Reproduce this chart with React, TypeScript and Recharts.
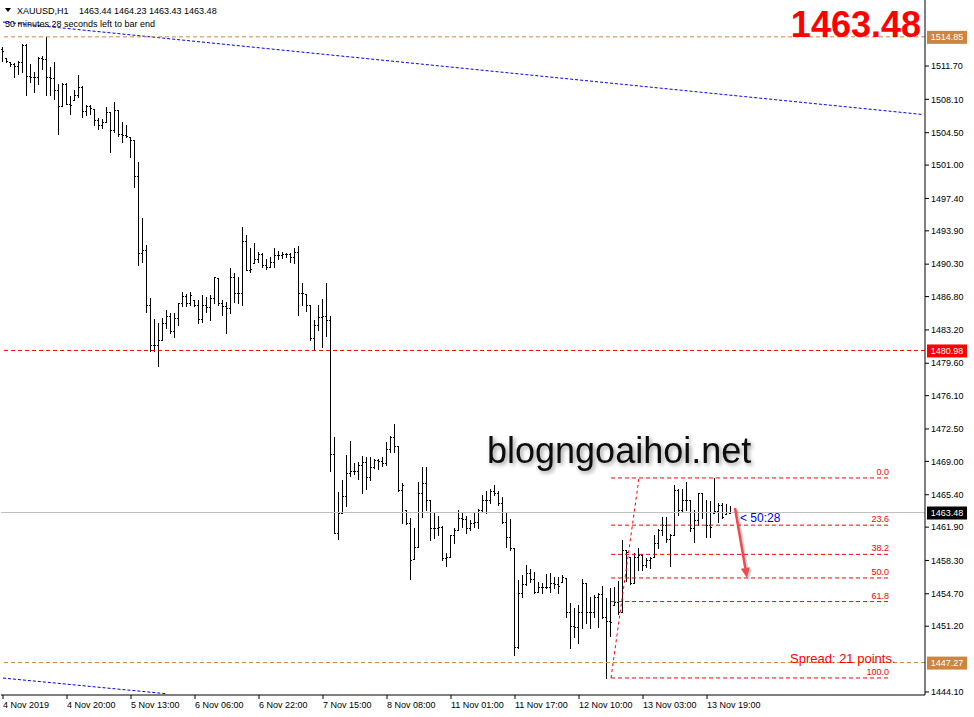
import { ComposedChart, Bar, XAxis, YAxis, ReferenceLine } from 'recharts'

const FONT = '"Liberation Sans", Arial, sans-serif'

// XAUUSD H1 bars, oldest first
const opens = [
  1513.54, 1512.57, 1512.13, 1511.92, 1511.70, 1512.13, 1513.97, 1510.62, 1510.51, 1510.51,
  1512.57, 1512.46, 1510.51, 1510.41, 1509.11, 1507.38, 1509.76, 1507.60, 1508.03, 1508.57,
  1509.43, 1506.84, 1507.38, 1507.06, 1505.87, 1505.33, 1505.65, 1506.73, 1504.79, 1506.95,
  1504.36, 1504.25, 1504.03, 1503.71, 1499.82, 1491.51, 1491.83, 1485.89, 1481.57, 1481.57,
  1482.11, 1483.95, 1484.70, 1483.08, 1484.49, 1486.11, 1486.86, 1486.11, 1486.43, 1485.89,
  1484.38, 1485.89, 1485.67, 1486.65, 1488.81, 1486.11, 1485.78, 1485.57, 1488.91, 1487.19,
  1487.19, 1492.80, 1489.67, 1490.43, 1490.86, 1491.40, 1490.21, 1489.99, 1490.53, 1491.29,
  1491.29, 1491.40, 1491.40, 1491.07, 1491.61, 1487.19, 1487.08, 1485.89, 1482.33, 1483.73,
  1484.59, 1484.70, 1484.27, 1469.80, 1461.27, 1463.43, 1465.26, 1467.75, 1467.96, 1467.96,
  1468.61, 1468.93, 1467.31, 1468.39, 1469.15, 1469.04, 1468.83, 1470.34, 1471.63, 1470.66,
  1465.91, 1463.75, 1462.35, 1458.46, 1459.75, 1465.59, 1466.67, 1464.83, 1461.81, 1461.81,
  1461.91, 1458.57, 1458.67, 1461.05, 1461.59, 1462.89, 1462.78, 1461.81, 1462.35, 1462.45,
  1463.75, 1464.83, 1464.83, 1465.80, 1465.59, 1464.51, 1462.45, 1460.83, 1459.65, 1448.95,
  1454.79, 1455.76, 1456.95, 1456.30, 1454.89, 1455.43, 1455.43, 1455.43, 1455.87, 1455.76,
  1455.97, 1456.41, 1452.73, 1451.22, 1451.11, 1452.73, 1455.87, 1452.73, 1452.73, 1454.35,
  1454.68, 1452.19, 1451.76, 1453.49, 1453.81, 1452.73, 1459.43, 1458.67, 1455.87, 1458.67,
  1458.89, 1457.81, 1458.35, 1458.67, 1460.19, 1461.59, 1462.13, 1460.62, 1461.05, 1465.91,
  1463.75, 1464.83, 1464.83, 1461.81, 1462.67, 1465.59, 1463.53, 1462.13, 1463.43, 1463.64,
  1464.29, 1463.32, 1463.44,
]

const highs = [
  1513.75, 1512.57, 1512.13, 1512.03, 1512.24, 1514.08, 1514.08, 1511.92, 1511.05, 1512.67,
  1512.78, 1514.85, 1511.59, 1512.13, 1509.76, 1509.87, 1509.87, 1508.46, 1509.11, 1510.73,
  1509.54, 1507.49, 1507.49, 1507.06, 1506.09, 1505.98, 1507.27, 1506.73, 1507.81, 1506.95,
  1505.65, 1505.33, 1504.03, 1503.71, 1501.33, 1495.29, 1492.37, 1486.65, 1484.38, 1483.95,
  1484.49, 1485.35, 1485.03, 1485.03, 1486.11, 1487.29, 1487.08, 1487.29, 1486.43, 1486.43,
  1486.97, 1486.75, 1486.97, 1488.91, 1488.81, 1486.43, 1486.21, 1489.89, 1489.35, 1488.91,
  1494.31, 1493.45, 1492.05, 1492.59, 1491.61, 1491.51, 1490.86, 1491.07, 1492.05, 1491.72,
  1491.61, 1491.51, 1491.51, 1492.05, 1492.26, 1488.27, 1487.08, 1485.89, 1484.27, 1485.89,
  1486.54, 1488.27, 1484.70, 1471.63, 1465.69, 1466.99, 1469.69, 1471.20, 1468.83, 1468.93,
  1469.58, 1469.47, 1469.47, 1469.26, 1469.26, 1469.47, 1471.09, 1471.74, 1473.04, 1470.66,
  1466.67, 1463.75, 1462.89, 1461.81, 1466.77, 1468.39, 1468.39, 1464.83, 1463.53, 1463.10,
  1462.02, 1459.11, 1461.05, 1461.81, 1463.75, 1463.53, 1463.10, 1462.67, 1463.43, 1463.86,
  1465.37, 1465.80, 1466.02, 1466.45, 1465.80, 1465.15, 1463.43, 1462.78, 1459.65, 1456.19,
  1456.73, 1457.81, 1457.38, 1457.05, 1455.97, 1455.87, 1456.84, 1456.95, 1456.51, 1456.51,
  1456.73, 1456.41, 1453.71, 1453.17, 1453.49, 1456.30, 1455.87, 1454.35, 1454.57, 1454.79,
  1455.54, 1454.25, 1455.33, 1455.43, 1456.08, 1460.51, 1459.43, 1458.67, 1459.11, 1459.65,
  1459.00, 1458.57, 1458.67, 1461.05, 1461.70, 1462.99, 1462.99, 1461.16, 1466.45, 1466.02,
  1466.02, 1466.77, 1464.83, 1463.75, 1465.59, 1465.59, 1464.83, 1464.72, 1467.21, 1464.51,
  1464.51, 1464.40, 1464.23,
]

const lows = [
  1512.24, 1512.13, 1511.70, 1510.51, 1510.84, 1511.05, 1508.57, 1509.97, 1508.89, 1509.76,
  1511.38, 1508.57, 1508.57, 1508.14, 1504.36, 1507.38, 1507.60, 1506.52, 1508.03, 1508.35,
  1506.19, 1506.41, 1506.52, 1505.33, 1504.90, 1505.01, 1505.65, 1502.41, 1504.57, 1504.14,
  1503.49, 1504.03, 1501.87, 1498.63, 1490.21, 1490.53, 1485.13, 1480.92, 1480.92, 1479.30,
  1482.11, 1483.41, 1482.87, 1482.43, 1483.73, 1485.78, 1485.78, 1485.89, 1485.78, 1483.95,
  1484.05, 1485.13, 1484.27, 1486.11, 1485.89, 1484.81, 1482.87, 1485.03, 1486.21, 1486.11,
  1485.89, 1489.67, 1489.45, 1490.43, 1490.53, 1489.99, 1489.78, 1489.99, 1489.99, 1490.86,
  1490.97, 1491.07, 1490.53, 1490.43, 1484.81, 1485.89, 1485.24, 1482.11, 1481.14, 1483.19,
  1481.35, 1482.54, 1467.96, 1461.27, 1460.62, 1463.43, 1464.18, 1467.42, 1467.64, 1467.10,
  1465.59, 1466.02, 1466.99, 1468.29, 1468.18, 1468.50, 1468.61, 1470.01, 1470.01, 1465.80,
  1462.35, 1462.24, 1456.30, 1458.46, 1459.75, 1462.99, 1463.75, 1460.51, 1460.73, 1461.05,
  1458.35, 1457.70, 1458.67, 1460.19, 1461.59, 1461.91, 1461.27, 1461.59, 1461.91, 1461.81,
  1463.53, 1463.43, 1464.51, 1465.37, 1464.29, 1462.35, 1459.75, 1459.43, 1448.09, 1448.85,
  1454.35, 1455.65, 1455.97, 1454.79, 1454.89, 1454.79, 1455.33, 1454.89, 1455.33, 1454.79,
  1455.97, 1452.19, 1448.85, 1450.03, 1449.39, 1451.01, 1451.55, 1451.01, 1452.19, 1451.11,
  1452.09, 1445.61, 1450.14, 1453.49, 1452.52, 1452.73, 1456.08, 1455.76, 1455.87, 1457.27,
  1457.27, 1457.59, 1457.49, 1458.67, 1459.65, 1461.05, 1460.29, 1457.70, 1461.05, 1463.21,
  1463.53, 1463.75, 1461.48, 1460.29, 1462.13, 1462.89, 1460.83, 1460.83, 1463.43, 1462.45,
  1462.89, 1463.32, 1463.43,
]

const closes = [
  1513.32, 1512.24, 1511.92, 1511.70, 1512.13, 1513.97, 1510.62, 1510.51, 1510.51, 1512.57,
  1512.46, 1510.51, 1510.41, 1509.11, 1507.38, 1509.76, 1507.60, 1507.49, 1508.57, 1509.43,
  1506.84, 1507.38, 1507.17, 1505.87, 1505.33, 1505.65, 1506.73, 1504.79, 1506.95, 1504.36,
  1504.25, 1504.14, 1503.71, 1499.82, 1491.51, 1491.83, 1485.89, 1481.57, 1481.57, 1482.11,
  1483.95, 1484.70, 1483.08, 1484.49, 1486.11, 1486.86, 1486.11, 1486.97, 1485.89, 1484.38,
  1485.89, 1485.67, 1486.65, 1488.91, 1486.11, 1485.78, 1485.57, 1488.91, 1487.19, 1487.19,
  1492.80, 1489.67, 1489.78, 1490.86, 1491.40, 1490.21, 1489.99, 1490.53, 1491.29, 1491.29,
  1491.40, 1491.40, 1491.07, 1491.61, 1487.19, 1487.19, 1485.89, 1482.33, 1483.73, 1484.59,
  1484.70, 1484.27, 1469.80, 1461.27, 1463.43, 1465.26, 1467.75, 1467.96, 1467.96, 1468.61,
  1468.93, 1467.31, 1468.39, 1469.15, 1469.04, 1468.83, 1470.34, 1471.63, 1470.66, 1465.91,
  1466.45, 1462.35, 1458.35, 1459.75, 1465.59, 1466.67, 1464.83, 1461.81, 1461.81, 1461.91,
  1458.57, 1458.67, 1461.05, 1461.59, 1462.89, 1462.78, 1461.81, 1462.35, 1462.45, 1463.75,
  1464.83, 1464.83, 1465.80, 1465.59, 1464.51, 1462.45, 1460.83, 1459.65, 1448.95, 1454.79,
  1455.76, 1456.95, 1456.30, 1454.89, 1455.43, 1455.43, 1455.43, 1455.87, 1455.76, 1455.54,
  1456.51, 1452.73, 1451.22, 1451.11, 1452.73, 1455.87, 1452.73, 1452.73, 1454.35, 1454.68,
  1452.19, 1451.76, 1451.65, 1453.81, 1452.73, 1459.43, 1459.21, 1455.87, 1458.67, 1458.89,
  1457.81, 1458.35, 1458.57, 1460.19, 1461.59, 1462.13, 1460.62, 1461.05, 1465.91, 1463.75,
  1464.83, 1464.83, 1461.81, 1462.67, 1465.59, 1463.53, 1462.13, 1461.91, 1463.64, 1464.29,
  1462.99, 1463.53, 1463.48,
]

// bar slots across the plot, the empty ones on the right are the chart shift
const slotCount = 231

const timeTicks = [0, 16, 32, 48, 64, 80, 96, 112, 128, 144, 160, 176]
const timeLabels = [
  '4 Nov 2019', '4 Nov 20:00', '5 Nov 13:00', '6 Nov 06:00', '6 Nov 22:00', '7 Nov 15:00',
  '8 Nov 08:00', '11 Nov 01:00', '11 Nov 17:00', '12 Nov 10:00', '13 Nov 03:00', '13 Nov 19:00',
]

const priceTicks = [
  1511.7, 1508.1, 1504.5, 1501.0, 1497.4, 1493.9, 1490.3, 1486.8, 1483.2, 1479.6,
  1476.1, 1472.5, 1469.0, 1465.4, 1461.9, 1458.3, 1454.7, 1451.2, 1444.1,
]
const priceDomain = [1443.77, 1518.83]

const bid = 1463.48
const upperLevel = 1514.85
const redLevel = 1480.98
const lowerLevel = 1447.27

// fibonacci drawn from the 12 Nov low to the 13 Nov high
const fibHigh = 1467.21
const fibLow = 1445.61
const fibLevels = [0, 23.6, 38.2, 50, 61.8, 100]
const fibFrom = 152
const fibTo = 222

// blue channel lines, [slot, price]
const channelTop = [[0, 1516.45], [230, 1506.46]]
const channelBottom = [[0, 1445.6], [41, 1443.9]]

// hand drawn arrow, [slot, price]
const arrow = [[183, 1463.97], [186, 1456.41]]

function OhlcBar(props: any) {
  const { x, y, width, height, payload } = props
  if (!payload || payload.hl == null) return null
  const top = Math.min(y, y + height)
  const h = Math.abs(height)
  const px = Math.floor(x + width / 2)
  const span = payload.h - payload.l
  const yAt = (v: number) => (span > 0 ? top + ((payload.h - v) / span) * h : top)
  const yo = Math.round(yAt(payload.o))
  const yc = Math.round(yAt(payload.c))
  return (
    <g fill="#000" shapeRendering="crispEdges">
      <rect x={px} y={Math.round(top)} width={1} height={Math.max(1, Math.round(h) + 1)} />
      <rect x={px - 1} y={yo} width={1} height={1} />
      <rect x={px + 1} y={yc} width={1} height={1} />
    </g>
  )
}

function TimeTick(props: any) {
  const { x, y, payload } = props
  const label = timeLabels[timeTicks.indexOf(payload.value)]
  if (!label) return null
  return (
    <text x={x} y={y + 9} fontSize={9} fontFamily={FONT} fill="#000" textAnchor="start">
      {label}
    </text>
  )
}

const priceTag = (text: string, bg: string) => (props: any) => {
  const vb = props.viewBox || props
  const x = vb.x + vb.width + 2
  const y = vb.y
  return (
    <g>
      <rect x={x} y={y - 6} width={40} height={13} fill={bg} />
      <text x={x + 20} y={y + 3.5} textAnchor="middle" fontSize={9} fontFamily={FONT} fill="#fff">
        {text}
      </text>
    </g>
  )
}

const fibText = (text: string) => (props: any) => {
  const vb = props.viewBox || props
  return (
    <text x={vb.x + vb.width - 2} y={vb.y - 3} textAnchor="end" fontSize={9} fontFamily={FONT} fill="#ff0000">
      {text}
    </text>
  )
}

function ArrowShape(props: any) {
  const { x1, y1, x2, y2 } = props
  if (x1 == null) return null
  const ang = Math.atan2(y2 - y1, x2 - x1)
  const len = 10
  const w = 4.5
  const bx = x2 - len * Math.cos(ang)
  const by = y2 - len * Math.sin(ang)
  const nx = -Math.sin(ang) * w
  const ny = Math.cos(ang) * w
  const head = `${x2},${y2} ${bx + nx},${by + ny} ${bx - nx},${by - ny}`
  return (
    <g>
      <g transform="translate(2,2)" opacity={0.25}>
        <line x1={x1} y1={y1} x2={bx} y2={by} stroke="#555" strokeWidth={2.5} />
        <polygon points={head} fill="#555" />
      </g>
      <line x1={x1} y1={y1} x2={bx} y2={by} stroke="#f04a4a" strokeWidth={2.5} />
      <polygon points={head} fill="#f04a4a" />
    </g>
  )
}

export default function App() {
  const rows = Array.from({ length: slotCount }, (_, i) => ({
    i,
    hl: i < closes.length ? [lows[i], highs[i]] : null,
    o: opens[i],
    h: highs[i],
    l: lows[i],
    c: closes[i],
  }))

  return (
    <div style={{ position: 'relative', width: 974, height: 717, background: '#fff' }}>
      <style>{'body{margin:0}'}</style>
      <ComposedChart width={974} height={717} data={rows} margin={{ top: 0, right: 0, bottom: 0, left: 1 }}>
        <XAxis
          dataKey="i"
          type="category"
          ticks={timeTicks}
          interval={0}
          height={22}
          tickSize={4}
          tickMargin={0}
          stroke="#000"
          tick={<TimeTick />}
        />
        <YAxis
          orientation="right"
          type="number"
          domain={priceDomain}
          allowDataOverflow
          ticks={priceTicks}
          interval={0}
          width={49}
          tickSize={4}
          tickMargin={2}
          stroke="#000"
          tick={{ fontSize: 9, fill: '#000', fontFamily: FONT }}
          tickFormatter={(v: number) => v.toFixed(2)}
        />

        <ReferenceLine
          segment={channelTop.map(([x, y]) => ({ x, y }))}
          stroke="#0000ff"
          strokeDasharray="3 2"
          ifOverflow="visible"
        />
        <ReferenceLine
          segment={channelBottom.map(([x, y]) => ({ x, y }))}
          stroke="#0000ff"
          strokeDasharray="3 2"
          ifOverflow="visible"
        />

        <ReferenceLine y={upperLevel} stroke="#cd853f" strokeDasharray="4 3" label={priceTag(upperLevel.toFixed(2), '#cd853f')} />
        <ReferenceLine y={redLevel} stroke="#ff0000" strokeDasharray="4 3" label={priceTag(redLevel.toFixed(2), '#ff0000')} />
        <ReferenceLine y={lowerLevel} stroke="#cd853f" strokeDasharray="4 3" label={priceTag(lowerLevel.toFixed(2), '#cd853f')} />
        <ReferenceLine y={bid} stroke="#c0c0c0" label={priceTag(bid.toFixed(2), '#000')} />

        {fibLevels.map((lv) => {
          const price = fibHigh - ((fibHigh - fibLow) * lv) / 100
          return (
            <ReferenceLine
              key={lv}
              segment={[{ x: fibFrom, y: price }, { x: fibTo, y: price }]}
              stroke="#ff0000"
              strokeDasharray="4 3"
              label={fibText(lv.toFixed(1))}
            />
          )
        })}
        <ReferenceLine
          segment={[{ x: fibFrom, y: fibLow }, { x: fibFrom + 7, y: fibHigh }]}
          stroke="#ff0000"
          strokeDasharray="3 3"
        />

        <Bar dataKey="hl" barSize={4} shape={OhlcBar} isAnimationActive={false} />

        <ReferenceLine
          segment={arrow.map(([x, y]) => ({ x, y }))}
          shape={ArrowShape}
        />
      </ComposedChart>

      <svg width={974} height={717} style={{ position: 'absolute', left: 0, top: 0, pointerEvents: 'none' }} fontFamily={FONT}>
        <defs>
          <filter id="wm" x="-5%" y="-30%" width="110%" height="160%">
            <feDropShadow dx="2" dy="2" stdDeviation="2" floodColor="#000" floodOpacity="0.4" />
          </filter>
        </defs>
        <polygon points="5,8 11,8 8,12" fill="#000" />
        <text x={17} y={14} fontSize={9} fill="#000">XAUUSD,H1</text>
        <text x={79} y={14} fontSize={9} fill="#000">1463.44 1464.23 1463.43 1463.48</text>
        <text x={5} y={27} fontSize={9} fill="#000">50 minutes 28 seconds left to bar end</text>
        <text x={921} y={37} fontSize={36} fontWeight="bold" fill="#ff0000" textAnchor="end">1463.48</text>
        <text x={487} y={463} fontSize={36} fill="#111" filter="url(#wm)">blogngoaihoi.net</text>
        <text x={740} y={522} fontSize={12} fill="#0000ff">{'< 50:28'}</text>
        <text x={790} y={663} fontSize={13} fill="#ff0000">Spread: 21 points.</text>
      </svg>
    </div>
  )
}
